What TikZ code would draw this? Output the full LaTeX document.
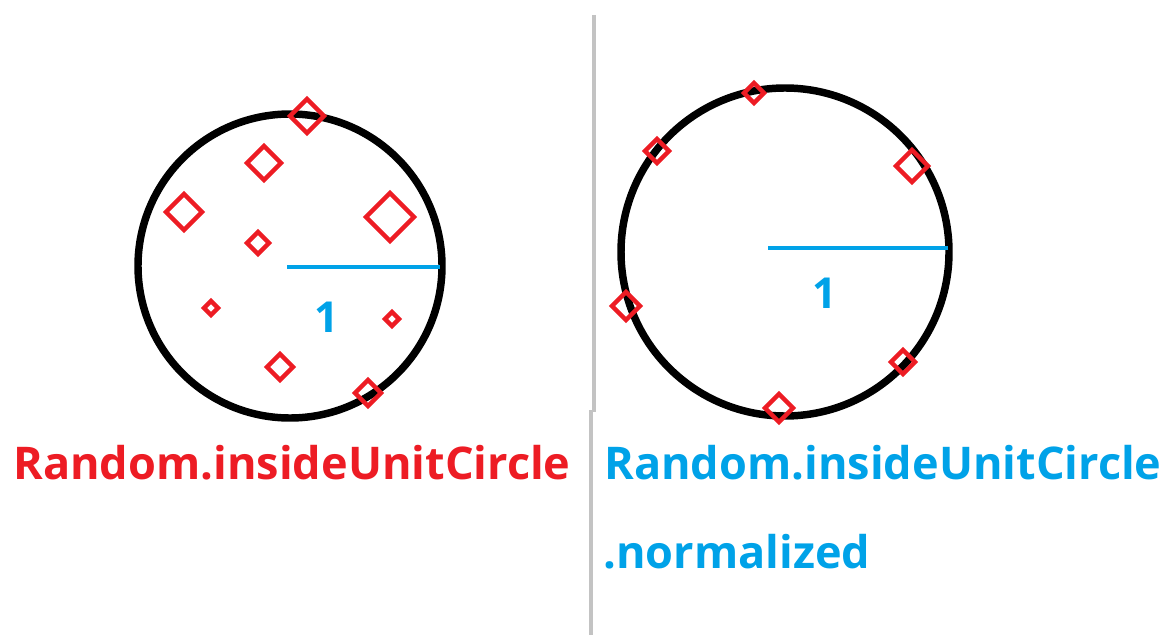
\documentclass[tikz,border=0pt]{standalone}
\usepackage{fontspec}
\setmainfont{Open Sans}
\usetikzlibrary{shapes.geometric}
\definecolor{paintred}{HTML}{ED1C24}
\definecolor{paintblue}{HTML}{00A2E8}
\definecolor{divgray}{HTML}{C3C3C3}

\begin{document}
\begin{tikzpicture}[
    x=0.75pt, y=-0.75pt,
    ring/.style={draw=black, line width=5.6pt},
    radius line/.style={draw=paintblue, line width=3.4pt},
    sample/.style={diamond, aspect=1, draw=paintred, line width=3.3pt, inner sep=0pt},
    caption/.style={anchor=base west, inner sep=0pt, font=\fontsize{33.8}{40}\selectfont\bfseries},
    unit/.style={text=paintblue, inner sep=0pt, font=\fontsize{32}{36}\selectfont\bfseries}
]
\useasboundingbox (0,0) rectangle (1173,635);

% divider
\coordinate (dtop) at (594,15);
\coordinate (dmid) at (594,412);
\coordinate (dmid2) at (591,410);
\coordinate (dbot) at (591,635);
\draw[divgray, line width=3pt] (dtop) -- (dmid);
\draw[divgray, line width=3pt] (dmid2) -- (dbot);

% left circle: inside unit circle
\coordinate (lc) at (290,266);
\draw[ring] (lc) circle (152);
\coordinate (lo) at (287,267);
\coordinate (lr) at (440,267);
\draw[radius line] (lo) -- (lr);
\node[unit] (lone) at (327,317) {1};
\foreach \px/\py/\h [count=\i] in {307/116/20, 264/163/20, 184/212/21, 390/217/27, 258/243/14, 211/308/10, 392/319/10, 280/367/16, 368/393/16}
    \node[sample, minimum size={1.5*\h*1pt-3pt}] (l\i) at (\px,\py) {};

% right circle: normalized
\coordinate (rc) at (785,252);
\draw[ring] (rc) circle (164);
\coordinate (ro) at (768,248);
\coordinate (rr) at (948,248);
\draw[radius line] (ro) -- (rr);
\node[unit] (rone) at (825,293) {1};
\foreach \px/\py/\h [count=\i] in {754/93/13, 657/151/15, 912/166/19, 626/306/17, 903/362/15, 779/408/17}
    \node[sample, minimum size={1.5*\h*1pt-3pt}] (r\i) at (\px,\py) {};

% captions
\node[caption, text=paintred] (lcap) at (13,479) {Random.insideUnitCircle};
\node[caption, text=paintblue] (rcap) at (604,479) {Random.insideUnitCircle};
\node[caption, text=paintblue] (rcap2) at (603,568) {.normalized};
\end{tikzpicture}
\end{document}
